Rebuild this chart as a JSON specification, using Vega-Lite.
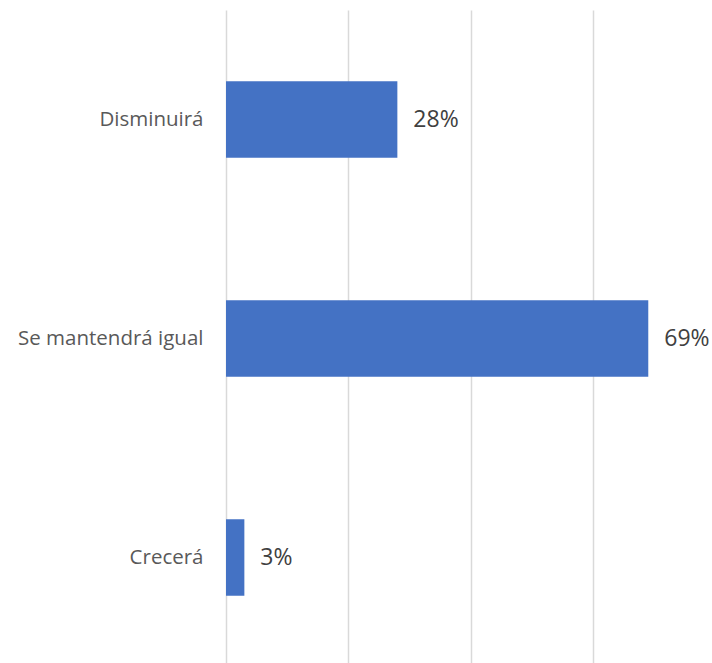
{
  "$schema": "https://vega.github.io/schema/vega-lite/v6.json",
  "autosize": {"type": "none"},
  "padding": {"left": 226, "top": 10, "right": 27, "bottom": 0},
  "width": 459,
  "height": 657,
  "background": "white",
  "config": {"view": {"stroke": null}, "font": "Open Sans"},
  "data": {"values": [
    {"categoria": "Disminuirá", "valor": 0.28},
    {"categoria": "Se mantendrá igual", "valor": 0.69},
    {"categoria": "Crecerá", "valor": 0.03}
  ]},
  "encoding": {
    "y": {
      "field": "categoria", "type": "nominal", "sort": null,
      "scale": {"paddingInner": 0.65, "paddingOuter": 0.325},
      "axis": {"title": null, "domain": false, "ticks": false, "labelPadding": 23, "labelFontSize": 20.5, "labelColor": "#595959", "labelFont": "Open Sans", "labelLimit": 300}
    },
    "x": {
      "field": "valor", "type": "quantitative",
      "scale": {"domain": [0, 0.75], "nice": false},
      "axis": {"title": null, "labels": false, "ticks": false, "domain": false, "values": [0, 0.2, 0.4, 0.6], "grid": true, "gridColor": "#d9d9d9", "gridWidth": 1.5}
    }
  },
  "layer": [
    {"mark": {"type": "bar", "color": "#4472C4"}},
    {
      "mark": {"type": "text", "align": "left", "baseline": "middle", "dx": 16, "fontSize": 23, "color": "#404040", "font": "Open Sans"},
      "encoding": {"text": {"field": "valor", "type": "quantitative", "format": ".0%"}}
    }
  ]
}
